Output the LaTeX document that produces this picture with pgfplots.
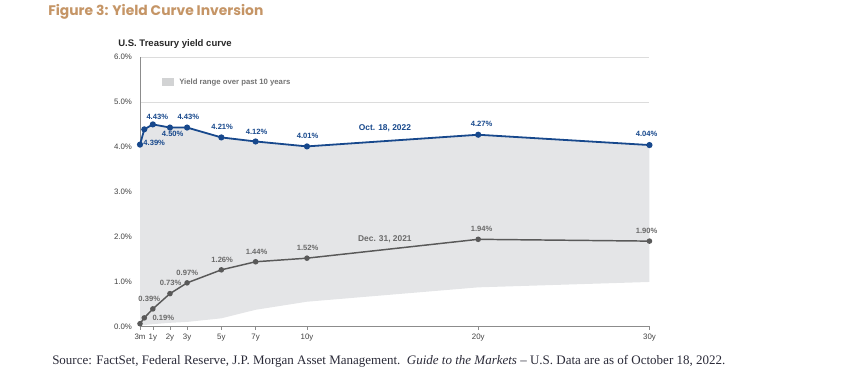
\documentclass[border=0pt]{standalone}
\usepackage{fontspec}
\usepackage{pgfplots}
\pgfplotsset{compat=1.18}
\setmainfont{Liberation Sans}
\newfontfamily\titlefont{Poppins}
\newfontfamily\srcfont[Ligatures=TeX]{Liberation Serif}
\definecolor{titlecol}{HTML}{C59566}
\definecolor{octblue}{HTML}{17488C}
\definecolor{decgray}{HTML}{595959}
\definecolor{declab}{HTML}{6A6A6A}
\definecolor{rangefill}{HTML}{E4E5E7}
\definecolor{gridgray}{HTML}{DCDCDC}
\definecolor{axisgray}{HTML}{8C8C8C}
\definecolor{ticktext}{HTML}{404040}
\definecolor{srctext}{HTML}{2A2A38}

\begin{document}
\begin{tikzpicture}
\useasboundingbox (0,0) rectangle (648.75pt,282pt);
% title
\node[anchor=west, inner sep=0pt, text=titlecol, font=\titlefont\bfseries\fontsize{10.4}{12}\selectfont] at (36pt,273pt) {Figure 3: Yield Curve Inversion};
% subtitle
\node[anchor=west, inner sep=0pt, font=\bfseries\fontsize{7.15}{8}\selectfont, text=black!85] at (88.5pt,249pt) {U.S. Treasury yield curve};
% source
\node[anchor=west, inner sep=0pt, text=srctext, font=\srcfont\fontsize{9.75}{11}\selectfont] at (39pt,11.3pt) {Source: FactSet, Federal Reserve, J.P. Morgan Asset Management.\ \ \textit{Guide to the Markets} \textendash{} U.S. Data are as of October 18, 2022.};

\begin{axis}[
  at={(105pt,37.2pt)}, anchor=south west,
  scale only axis, width=382.1pt, height=202pt,
  xmin=0.25, xmax=30, ymin=0, ymax=6,
  axis x line*=bottom, axis y line*=left,
  axis line style={draw=axisgray, line width=0.6pt},
  xtick={0.25,1,2,3,5,7,10,20,30},
  xticklabels={3m,1y,2y,3y,5y,7y,10y,20y,30y},
  ytick={0,1,2,3,4,5,6},
  yticklabel={\pgfmathprintnumber[fixed,fixed zerofill,precision=1]{\tick}\%},
  ymajorgrids, grid style={draw=gridgray, line width=0.5pt},
  tick align=outside, major tick length=2.5pt,
  xtick style={draw=axisgray, line width=0.5pt},
  ytick style={draw=none},
  tick label style={font=\fontsize{5.9}{6}\selectfont, text=ticktext},
  /pgf/number format/assume math mode=true,
  clip=false,
]
% yield range over past 10 years (upper = Oct 18 2022 curve, lower = 10-year minimum)
\addplot[draw=none, fill=rangefill] coordinates {
 (0.25,4.05) (0.5,4.39) (1,4.50) (2,4.43) (3,4.43) (5,4.21) (7,4.12) (10,4.01) (20,4.27) (30,4.04)
 (30,0.99) (20,0.87) (10,0.55) (7,0.37) (5,0.18) (3,0.10) (2,0.08) (1,0.05) (0.5,0.03) (0.25,0.02)
} -- cycle;
% Dec. 31, 2021
\addplot[decgray, line width=1.1pt, mark=*, mark size=1.5pt, mark options={fill=decgray, draw=decgray}] coordinates {
 (0.25,0.06) (0.5,0.19) (1,0.39) (2,0.73) (3,0.97) (5,1.26) (7,1.44) (10,1.52) (20,1.94) (30,1.90)
};
% Oct. 18, 2022
\addplot[octblue, line width=1.35pt, mark=*, mark size=1.6pt, mark options={fill=octblue, draw=octblue}] coordinates {
 (0.25,4.05) (0.5,4.39) (1,4.50) (2,4.43) (3,4.43) (5,4.21) (7,4.12) (10,4.01) (20,4.27) (30,4.04)
};
% labels Oct
\begin{scope}[every node/.style={font=\bfseries\fontsize{5.7}{6}\selectfont, text=octblue, inner sep=0pt}]
\node at (axis cs:1.26,4.657) {4.43\%};
\node at (axis cs:2.16,4.30) {4.50\%};
\node at (axis cs:3.07,4.67) {4.43\%};
\node at (axis cs:1.08,4.09) {4.39\%};
\node at (axis cs:5.05,4.45) {4.21\%};
\node at (axis cs:7.06,4.34) {4.12\%};
\node at (axis cs:10.04,4.24) {4.01\%};
\node at (axis cs:20.2,4.51) {4.27\%};
\node at (axis cs:29.83,4.28) {4.04\%};
\node[font=\bfseries\fontsize{6.3}{7}\selectfont] at (axis cs:14.55,4.41) {Oct. 18, 2022};
\end{scope}
\begin{scope}[every node/.style={font=\bfseries\fontsize{5.7}{6}\selectfont, text=declab, inner sep=0pt}]
\node at (axis cs:1.61,0.18) {0.19\%};
\node at (axis cs:0.79,0.62) {0.39\%};
\node at (axis cs:2.04,0.96) {0.73\%};
\node at (axis cs:3.01,1.20) {0.97\%};
\node at (axis cs:5.05,1.48) {1.26\%};
\node at (axis cs:7.06,1.66) {1.44\%};
\node at (axis cs:10.04,1.74) {1.52\%};
\node at (axis cs:20.2,2.18) {1.94\%};
\node at (axis cs:29.83,2.12) {1.90\%};
\node[font=\bfseries\fontsize{6.3}{7}\selectfont] at (axis cs:14.55,1.95) {Dec. 31, 2021};
\end{scope}
% legend
\fill[rangefill!92!black] (axis cs:1.56,5.35) rectangle (axis cs:2.22,5.53);
\node[anchor=west, inner sep=0pt, font=\bfseries\fontsize{5.8}{6}\selectfont, text=black!55] at (axis cs:2.53,5.44) {Yield range over past 10 years};
\end{axis}
\end{tikzpicture}
\end{document}
